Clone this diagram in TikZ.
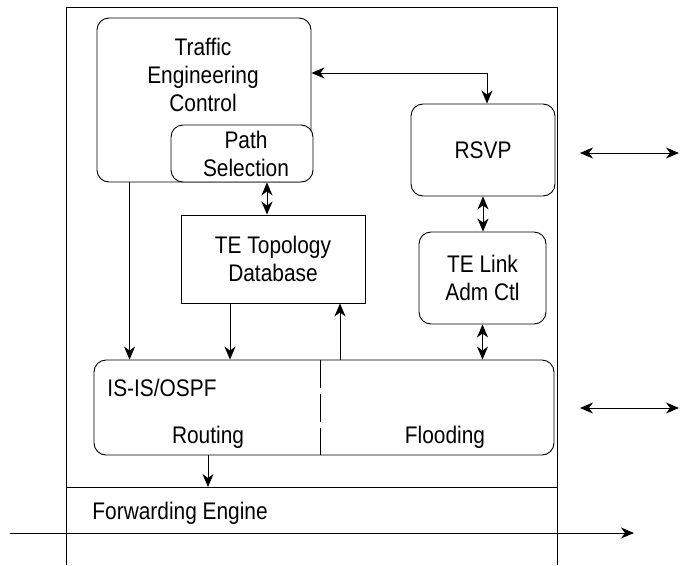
\documentclass[tikz,border=0pt]{standalone}
\usepackage{fontspec}
\setmainfont{Liberation Sans}[FakeStretch=0.87]
\usepackage{tikz}
\usetikzlibrary{positioning,arrows.meta}

\begin{document}
\begin{tikzpicture}[
x=1pt, y=-1pt,
line width=0.9pt,
font=\fontsize{24}{28}\selectfont,
roundbox/.style={
  draw,
  rounded corners=12pt,
  fill=white,
  inner sep=0pt
  },
sharpbox/.style={
  draw,
  fill=white,
  inner sep=0pt
  },
caption/.style={
  align=center,
  inner sep=0pt
  },
>={Stealth[length=13pt,width=11pt,inset=4pt]}
]
\useasboundingbox (0,0) rectangle (680,565);

% frame of the router
\coordinate (ftl) at (66,7);
\coordinate (ftr) at (557,7);
\coordinate (fbl) at (66,565);
\coordinate (fbr) at (557,565);
\coordinate (fwdl) at (66,487);
\coordinate (fwdr) at (557,487);
\draw (fbl) -- (ftl) -- (ftr) -- (fbr);
\draw (fwdl) -- (fwdr);

% boxes
\node[roundbox, minimum width=214pt, minimum height=164pt] (tec) at (204,100) {};
\node[caption] (tecname) at (203,75) {Traffic\\Engineering\\Control};
\node[roundbox, minimum width=142pt, minimum height=57pt] (path) at (242,153.5) {};
\node[caption] (pathname) at (246,154) {Path\\Selection};
\node[roundbox, minimum width=144pt, minimum height=92pt] (rsvp) at (483,150) {RSVP};
\node[roundbox, minimum width=127pt, minimum height=92pt, align=center] (telink) at (482.5,278) {TE Link\\Adm Ctl};
\node[sharpbox, minimum width=184pt, minimum height=88pt, align=center] (topo) at (273,259) {TE Topology\\Database};
\node[roundbox, minimum width=460pt, minimum height=95pt] (isis) at (324,407.5) {};
\node[caption, anchor=west] (isisname) at (107,388) {IS-IS/OSPF};
\node[caption] (routing) at (208,437) {Routing};
\node[caption] (flooding) at (445,437) {Flooding};
\node[caption, anchor=west] (fwd) at (92,513) {Forwarding Engine};
\draw[dash pattern=on 28pt off 6pt] ([xshift=-4pt]isis.north) -- ([xshift=-4pt]isis.south);

% connectors
\draw[->] ([xshift=33pt]tec.south west) coordinate (tecdown) -- (tecdown |- isis.north);
\draw[<->] ([xshift=-6pt]topo.north) coordinate (topoup) -- (topoup |- path.south);
\draw[->] ([xshift=-43pt]topo.south) coordinate (topodown) -- (topodown |- isis.north);
\draw[->] ([xshift=67pt]topo.south |- isis.north) coordinate (floodup) -- (floodup |- topo.south);
\draw[<->] ([yshift=27pt]tec.east) -| ([xshift=4pt]rsvp.north);
\draw[<->] (rsvp.south) -- (rsvp.south |- telink.north);
\draw[<->] (telink.south) -- (telink.south |- isis.north);
\draw[->] (routing |- isis.south) -- (routing |- fwdl);

% outside the router
\coordinate (sigl) at (580,153);
\coordinate (sigr) at (679,153);
\coordinate (lsal) at (580,408);
\coordinate (lsar) at (679,408);
\coordinate (datain) at (10,533);
\coordinate (dataout) at (634,533);
\draw[<->] (sigl) -- (sigr);
\draw[<->] (lsal) -- (lsar);
\draw[->] (datain) -- (dataout);
\end{tikzpicture}
\end{document}
